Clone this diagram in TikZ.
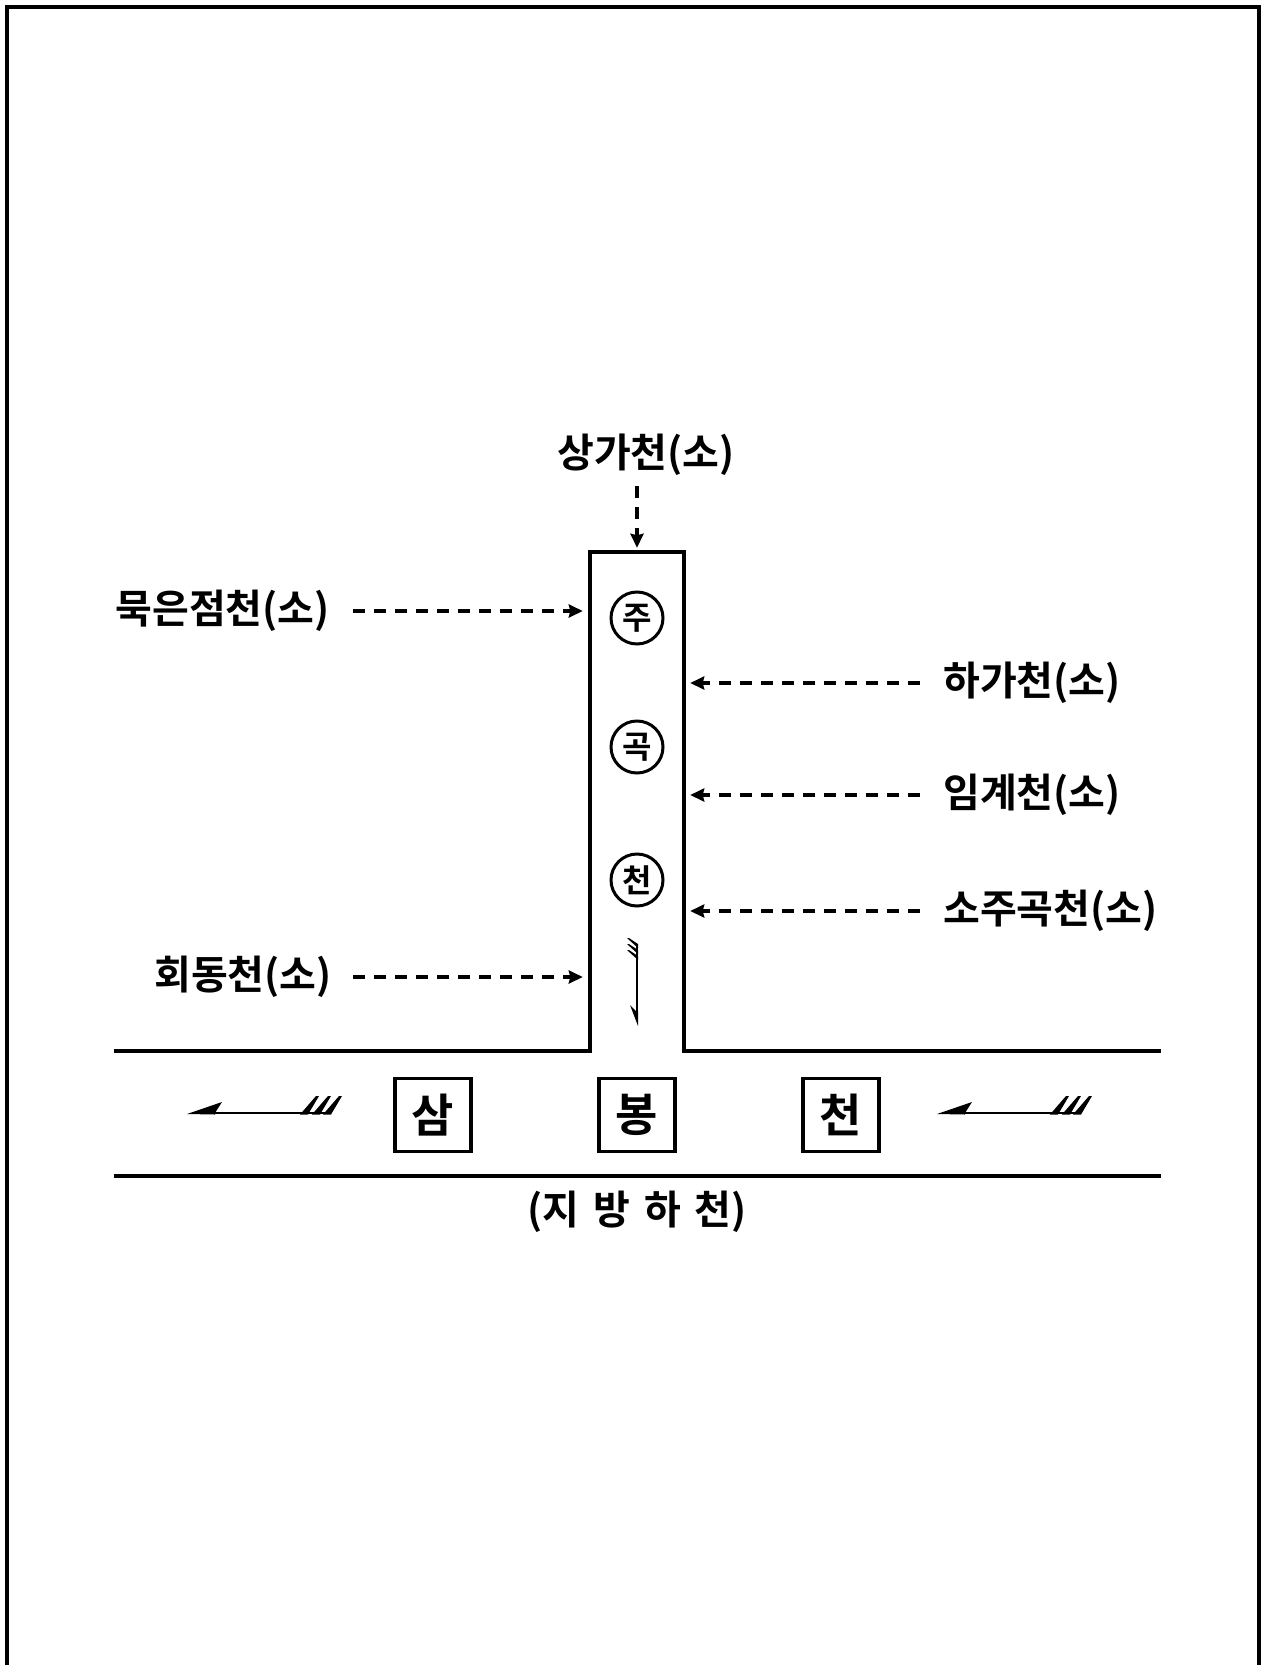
\documentclass[tikz,border=0pt]{standalone}
\usepackage{fontspec}
\setmainfont{Noto Sans CJK KR}[BoldFont={* Bold}]
\usetikzlibrary{arrows.meta}
\tikzset{
  lbl/.style={inner sep=0pt, font=\fontsize{40}{44}\selectfont\bfseries},
  dasharr/.style={line width=3.6pt, dash pattern=on 12pt off 9pt, -{Stealth[length=14pt,width=13pt,inset=1.5pt]}},
  circlbl/.style={circle, draw, line width=3pt, minimum size=52pt, inner sep=0pt, font=\fontsize{32}{34}\selectfont\bfseries},
  boxlbl/.style={draw, line width=3.2pt, minimum width=76pt, minimum height=73pt, inner sep=0pt, font=\fontsize{46}{48}\selectfont\bfseries},
  river/.style={line width=3.8pt},
  frame/.style={line width=4pt}
}
\begin{document}
\begin{tikzpicture}[x=1pt,y=-1pt]
\useasboundingbox (0,0) rectangle (1261,1665);
\fill[white] (0,0) rectangle (1261,1665);
\draw[frame] (7,1665) -- (7,7) -- (1259,7) -- (1259,1665);

% tributary and main river
\node[minimum width=94pt, minimum height=499pt, inner sep=0pt] (trib) at (637,801.5) {};
\draw[river, line join=miter] (114,1051) -- (590,1051) -- (590,552) -- (684,552) -- (684,1051) -- (1161,1051);
\draw[river] (114,1176) -- (1161,1176);

% labels
\node[lbl] (sang) at (646,455) {상가천(소)};
\node[lbl, anchor=east] (muk) at (330,611) {묵은점천(소)};
\node[lbl, anchor=east] (hoe) at (332,977) {회동천(소)};
\node[lbl, anchor=west] (haga) at (943,683) {하가천(소)};
\node[lbl, anchor=west] (imgye) at (943,795) {임계천(소)};
\node[lbl, anchor=west] (soju) at (943,911) {소주곡천(소)};

% dashed arrows
\draw[dasharr, shorten <=10pt, shorten >=4pt] (trib.north |- sang.south) -- (trib.north);
\draw[dasharr, shorten <=23pt, shorten >=7pt] (muk.east) -- (muk.east -| trib.west);
\draw[dasharr, shorten <=21pt, shorten >=7pt] (hoe.east) -- (hoe.east -| trib.west);
\draw[dasharr, shorten <=23pt, shorten >=6pt] (haga.west) -- (haga.west -| trib.east);
\draw[dasharr, shorten <=23pt, shorten >=6pt] (imgye.west) -- (imgye.west -| trib.east);
\draw[dasharr, shorten <=23pt, shorten >=6pt] (soju.west) -- (soju.west -| trib.east);

% circled names
\node[circlbl] (c1) at (637,618) {주};
\node[circlbl] (c2) at (637,747) {곡};
\node[circlbl] (c3) at (637,880) {천};

% boxed names
\node[boxlbl] (b1) at (433,1115) {삼};
\node[boxlbl] (b2) at (637,1115) {봉};
\node[boxlbl] (b3) at (841,1115) {천};

\node[lbl] (kind) at (637,1212) {(지\hspace{14pt}방\hspace{14pt}하\hspace{14pt}천)};

% flow arrows in main river
\foreach \dx in {0,750} {
  \begin{scope}[xshift=\dx pt]
    \draw[line width=1.6pt] (214,1113) -- (330,1113);
    \fill (187,1114) -- (222,1102) -- (215,1113) -- (215,1114.5) -- cycle;
    \foreach \fx in {300,312,323} {
      \fill (\fx,1114.5) -- (\fx+8,1114.5) -- (\fx+19,1096) -- (\fx+16,1096) -- cycle;
    }
  \end{scope}
}
% flow arrow in tributary
\draw[line width=1.4pt] (637,944) -- (637,1015);
\fill (638,1026) -- (630,1005) -- (636,1011) -- (638,1011) -- cycle;
\foreach \fy in {938,944,950} {
  \fill (627,\fy) -- (629,\fy) -- (638,\fy+6) -- (638,\fy+10) -- cycle;
}
\end{tikzpicture}
\end{document}
